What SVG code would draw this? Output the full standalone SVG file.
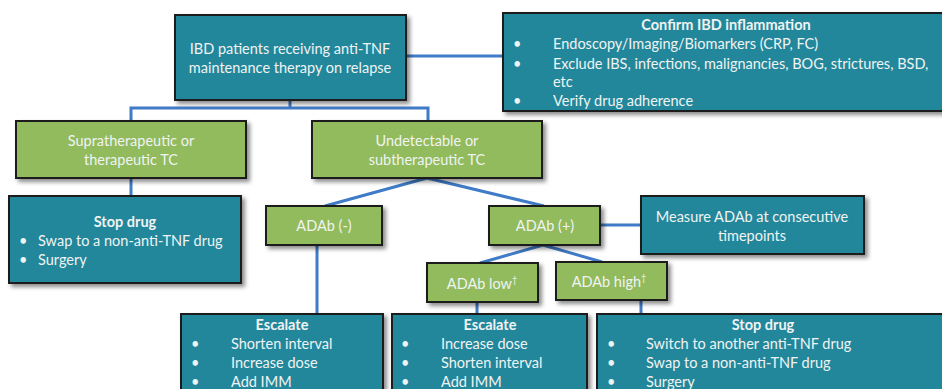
<svg xmlns="http://www.w3.org/2000/svg" width="942" height="389" viewBox="0 0 942 389">
<defs>
<filter id="sh" x="-10%" y="-10%" width="130%" height="140%">
<feDropShadow dx="3" dy="3" stdDeviation="2" flood-color="#000" flood-opacity="0.45"/>
</filter>
<style>
.teal{fill:#22879B;stroke:#1b1b1b;stroke-width:2;filter:url(#sh)}
.green{fill:#91BB5B;stroke:#1b1b1b;stroke-width:2;filter:url(#sh)}
text{font-family:Lato,"Open Sans","Liberation Sans",sans-serif;font-size:14.5px;fill:#F0F3F3}
.c{text-anchor:middle}
.b{font-weight:bold}
.conn{fill:none;stroke:#3F7BC6;stroke-width:3}
</style>
</defs>
<g id="connectors">
<path class="conn" d="M406 56 H503"/>
<path class="conn" d="M290 100 V108 M131 121 V108 H428 V121"/>
<path class="conn" d="M131 178 V196"/>
<path class="conn" d="M427 178 L325 206 M427 178 L544 206"/>
<path class="conn" d="M317 245 V314"/>
<path class="conn" d="M600 225 H641"/>
<path class="conn" d="M543 245 L480 263 M543 245 L602 262"/>
<path class="conn" d="M477 302 V314 M641 300 V314"/>
</g>
<g id="top">
<rect class="teal" x="175" y="15" width="231" height="85"/>
<text class="c" x="290" y="54">IBD patients receiving anti-TNF</text>
<text class="c" x="290" y="73">maintenance therapy on relapse</text>
</g>
<g id="confirm">
<rect class="teal" x="503" y="13" width="445" height="98"/>
<text class="c b" x="726" y="30">Confirm IBD inflammation</text>
<text x="513" y="49">•</text><text x="553" y="49">Endoscopy/Imaging/Biomarkers (CRP, FC)</text>
<text x="513" y="69">•</text><text x="553" y="69">Exclude IBS, infections, malignancies, BOG, strictures, BSD,</text>
<text x="553" y="87">etc</text>
<text x="513" y="106">•</text><text x="553" y="106">Verify drug adherence</text>
</g>
<g id="supra">
<rect class="green" x="16" y="121" width="230" height="57"/>
<text class="c" x="131" y="146">Supratherapeutic or</text>
<text class="c" x="131" y="165">therapeutic TC</text>
</g>
<g id="undetect">
<rect class="green" x="312" y="121" width="230" height="57"/>
<text class="c" x="427" y="146">Undetectable or</text>
<text class="c" x="427" y="165">subtherapeutic TC</text>
</g>
<g id="stop1">
<rect class="teal" x="9" y="196" width="232" height="87"/>
<text class="c b" x="125" y="227">Stop drug</text>
<text x="19" y="246">•</text><text x="38" y="246">Swap to a non-anti-TNF drug</text>
<text x="19" y="265">•</text><text x="38" y="265">Surgery</text>
</g>
<g id="adabneg">
<rect class="green" x="266" y="206" width="116" height="39"/>
<text class="c" x="324" y="231">ADAb (-)</text>
</g>
<g id="adabpos">
<rect class="green" x="489" y="206" width="111" height="39"/>
<text class="c" x="545" y="231">ADAb (+)</text>
</g>
<g id="measure">
<rect class="teal" x="641" y="196" width="223" height="58"/>
<text class="c" x="752" y="222">Measure ADAb at consecutive</text>
<text class="c" x="752" y="241">timepoints</text>
</g>
<g id="adablow">
<rect class="green" x="427" y="263" width="111" height="39"/>
<text class="c" x="482" y="289">ADAb low<tspan font-size="9" dy="-6">†</tspan></text>
</g>
<g id="adabhigh">
<rect class="green" x="556" y="262" width="111" height="38"/>
<text class="c" x="609" y="287">ADAb high<tspan font-size="9" dy="-6">†</tspan></text>
</g>
<g id="escalate1">
<rect class="teal" x="181" y="314" width="202" height="90"/>
<text class="c b" x="282" y="330">Escalate</text>
<text x="191" y="349">•</text><text x="231" y="349">Shorten interval</text>
<text x="191" y="368">•</text><text x="231" y="368">Increase dose</text>
<text x="191" y="387">•</text><text x="231" y="387">Add IMM</text>
</g>
<g id="escalate2">
<rect class="teal" x="392" y="314" width="195" height="90"/>
<text class="c b" x="490" y="330">Escalate</text>
<text x="401" y="349">•</text><text x="441" y="349">Increase dose</text>
<text x="401" y="368">•</text><text x="441" y="368">Shorten interval</text>
<text x="401" y="387">•</text><text x="441" y="387">Add IMM</text>
</g>
<g id="stop2">
<rect class="teal" x="597" y="314" width="350" height="90"/>
<text class="c b" x="763" y="330">Stop drug</text>
<text x="607" y="349">•</text><text x="646" y="349">Switch to another anti-TNF drug</text>
<text x="607" y="368">•</text><text x="646" y="368">Swap to a non-anti-TNF drug</text>
<text x="607" y="387">•</text><text x="646" y="387">Surgery</text>
</g>
</svg>
